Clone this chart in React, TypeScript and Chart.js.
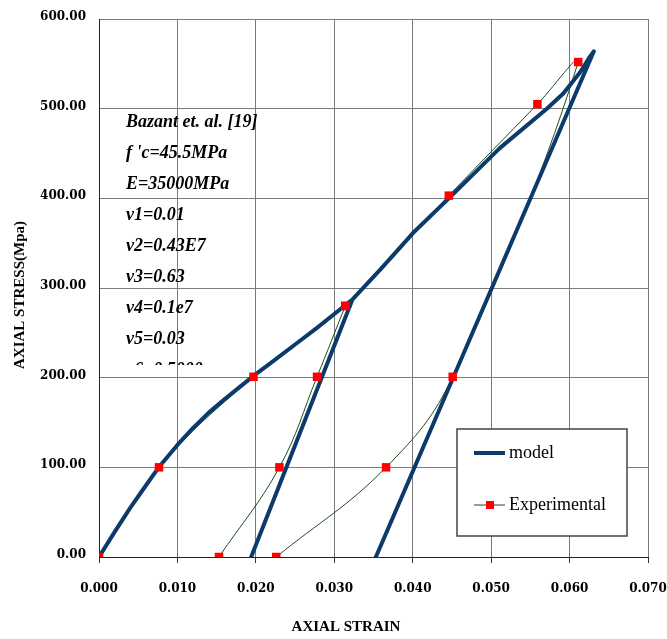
import { useEffect, useRef } from 'react';
import Chart from 'chart.js/auto';

// ---- data ----
const xTickValues = [0, 0.01, 0.02, 0.03, 0.04, 0.05, 0.06, 0.07];
const yTickValues = [0, 100, 200, 300, 400, 500, 600];

const modelStrain = [0, 0.002, 0.004, 0.006, 0.0077, 0.010, 0.012, 0.014, 0.016, 0.018, 0.0197, 0.022, 0.025, 0.028, 0.030, 0.0323, 0.0194, 0.0323, 0.036, 0.040, 0.0446, 0.0511, 0.0571, 0.0592, 0.0613, 0.0626, 0.0631, 0.0353];
const modelStress = [0, 28, 55, 80, 101, 125, 144, 161, 176, 190, 202, 217, 237, 257, 271, 287, 0, 287, 322, 361, 400, 456, 500, 517, 540, 558, 564, 0];

const expStrain = [0, 0.00765, 0.0197, 0.0314, 0.0446, 0.0559, 0.0611, 0.0451, 0.0366, 0.0226];
const expStress = [0, 100, 201, 280, 403, 505, 552, 201, 100, 0];

const expUnloadStrain = [0.0314, 0.0278, 0.0230, 0.0153];
const expUnloadStress = [280, 201, 100, 0];

const annotationLines = ['Bazant et. al. [19]', "f 'c=45.5MPa", 'E=35000MPa', 'v1=0.01', 'v2=0.43E7', 'v3=0.63', 'v4=0.1e7', 'v5=0.03', 'v6=0.5000'];
const legendLabels = ['model', 'Experimental'];
const xTitle = 'AXIAL STRAIN';
const yTitle = 'AXIAL STRESS(Mpa)';

const MODEL_COLOR = '#0b3a6b';
const EXP_LINE_COLOR = '#1d4d1d';
const MARKER_COLOR = '#ff0000';

const toPts = (xs: number[], ys: number[]) => xs.map((x, i) => ({ x, y: ys[i] }));

const overlayPlugin = {
  id: 'overlay',
  afterDraw(chart: any) {
    const ctx = chart.ctx as CanvasRenderingContext2D;
    // annotation text block
    ctx.save();
    ctx.beginPath();
    ctx.rect(110, 100, 200, 265);
    ctx.clip();
    ctx.font = 'italic bold 18px "Liberation Serif"';
    ctx.fillStyle = '#000';
    ctx.textAlign = 'left';
    ctx.textBaseline = 'middle';
    annotationLines.forEach((t, i) => ctx.fillText(t, 126, 122 + i * 31));
    ctx.restore();

    // axis titles
    ctx.save();
    ctx.fillStyle = '#000';
    ctx.font = 'bold 15px "Liberation Serif"';
    ctx.textAlign = 'center';
    ctx.textBaseline = 'middle';
    ctx.fillText(xTitle, 346, 627);
    ctx.translate(20, 295);
    ctx.rotate(-Math.PI / 2);
    ctx.fillText(yTitle, 0, 0);
    ctx.restore();

    // legend box
    ctx.save();
    ctx.fillStyle = '#fff';
    ctx.strokeStyle = '#444';
    ctx.lineWidth = 1.5;
    ctx.fillRect(457, 429, 170, 107);
    ctx.strokeRect(457, 429, 170, 107);
    ctx.lineCap = 'butt';
    ctx.strokeStyle = MODEL_COLOR;
    ctx.lineWidth = 4;
    ctx.beginPath();
    ctx.moveTo(474, 453);
    ctx.lineTo(505, 453);
    ctx.stroke();
    ctx.strokeStyle = EXP_LINE_COLOR;
    ctx.lineWidth = 1;
    ctx.beginPath();
    ctx.moveTo(474, 505);
    ctx.lineTo(505, 505);
    ctx.stroke();
    ctx.fillStyle = MARKER_COLOR;
    ctx.fillRect(486, 501, 8, 8);
    ctx.fillStyle = '#000';
    ctx.font = '18px "Liberation Serif"';
    ctx.textAlign = 'left';
    ctx.textBaseline = 'middle';
    ctx.fillText(legendLabels[0], 509, 453);
    ctx.fillText(legendLabels[1], 509, 505);
    ctx.restore();
  },
};

export default function App() {
  const ref = useRef<HTMLCanvasElement | null>(null);
  useEffect(() => {
    document.body.style.margin = '0';
    const canvas = ref.current;
    if (!canvas) return;
    const tickFont = { family: 'DejaVu Serif', size: 12, weight: 'bold' as const };
    const chart = new Chart(canvas, {
      type: 'scatter',
      data: {
        datasets: [
          {
            label: 'markers',
            data: [...toPts(expStrain, expStress), ...toPts(expUnloadStrain, expUnloadStress)],
            showLine: false,
            pointStyle: 'rect',
            pointRadius: 6,
            pointBackgroundColor: MARKER_COLOR,
            pointBorderWidth: 0,
            order: 1,
          },
          {
            label: legendLabels[0],
            data: toPts(modelStrain, modelStress),
            showLine: true,
            borderColor: MODEL_COLOR,
            borderWidth: 4,
            pointRadius: 0,
            tension: 0,
            borderJoinStyle: 'round',
            borderCapStyle: 'round',
            order: 2,
          },
          {
            label: legendLabels[1],
            data: toPts(expStrain, expStress),
            showLine: true,
            borderColor: EXP_LINE_COLOR,
            borderWidth: 1,
            pointRadius: 0,
            tension: 0.4,
            order: 3,
          },
          {
            label: 'exp-unload',
            data: toPts(expUnloadStrain, expUnloadStress),
            showLine: true,
            borderColor: EXP_LINE_COLOR,
            borderWidth: 1,
            pointRadius: 0,
            tension: 0.4,
            order: 3,
          },
        ],
      },
      options: {
        responsive: false,
        animation: false,
        devicePixelRatio: 1,
        layout: { padding: { top: 19, right: 19, left: 0, bottom: 0 } },
        plugins: { legend: { display: false }, tooltip: { enabled: false } },
        scales: {
          x: {
            type: 'linear',
            min: 0,
            max: 0.07,
            afterBuildTicks: (scale: any) => {
              scale.ticks = xTickValues.map((v) => ({ value: v }));
            },
            afterFit: (scale: any) => {
              scale.height = 82;
              scale.paddingLeft = 0;
              scale.paddingRight = 0;
            },
            ticks: {
              callback: (v: any) => Number(v).toFixed(3),
              font: tickFont,
              color: '#000',
              padding: 19,
              maxRotation: 0,
            },
            grid: { color: '#7a7a7a', lineWidth: 1, tickLength: 6, tickColor: '#333' },
            border: { color: '#222', width: 1 },
            title: { display: false },
          },
          y: {
            type: 'linear',
            min: 0,
            max: 600,
            afterBuildTicks: (scale: any) => {
              scale.ticks = yTickValues.map((v) => ({ value: v }));
            },
            afterFit: (scale: any) => {
              scale.width = 99;
              scale.paddingTop = 0;
              scale.paddingBottom = 0;
            },
            ticks: {
              callback: (v: any) => Number(v).toFixed(2),
              font: tickFont,
              color: '#000',
              padding: 13,
              labelOffset: -2,
            },
            grid: { color: '#7a7a7a', lineWidth: 1, drawTicks: false },
            border: { color: '#222', width: 1 },
            title: { display: false },
          },
        },
      },
      plugins: [overlayPlugin],
    } as any);
    return () => chart.destroy();
  }, []);
  return (
    <div style={{ position: 'absolute', left: 0, top: 0, width: 667, height: 639, background: '#fff' }}>
      <canvas ref={ref} width={667} height={639} style={{ width: 667, height: 639, display: 'block' }} />
    </div>
  );
}
